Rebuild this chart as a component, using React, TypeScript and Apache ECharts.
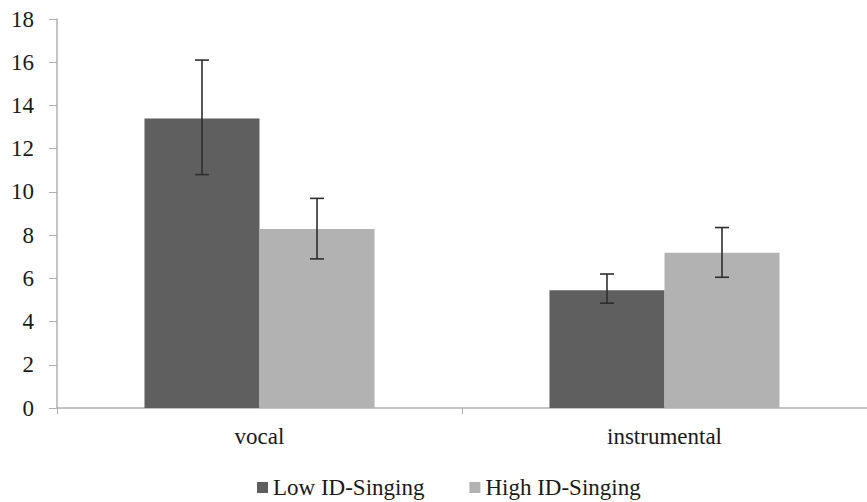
import React, { useEffect, useRef } from "react";
import * as echarts from "echarts";

const categories = ["vocal", "instrumental"];
const seriesNames = ["Low ID-Singing", "High ID-Singing"];
const lowValues = [13.4, 5.45];
const highValues = [8.28, 7.18];
const lowErrLow = [10.8, 4.85];
const lowErrHigh = [16.1, 6.2];
const highErrLow = [6.9, 6.05];
const highErrHigh = [9.7, 8.35];
const yTicks = [0, 2, 4, 6, 8, 10, 12, 14, 16, 18];

const colors = ["#5f5f5f", "#b2b2b2"];
const FONT = "Liberation Serif, serif";
const BAR_FRAC = 0.284;

function errSeries(lo: number[], hi: number[], offsetSign: number) {
  return {
    type: "custom",
    silent: true,
    z: 10,
    data: categories.map((_, i) => [i, lo[i], hi[i]]),
    renderItem: (params: any, api: any) => {
      const band = api.size([1, 0])[0];
      const xIdx = api.value(0);
      const pLo = api.coord([xIdx, api.value(1)]);
      const pHi = api.coord([xIdx, api.value(2)]);
      const x = pLo[0] + offsetSign * band * BAR_FRAC * 0.5;
      const cap = 7;
      const style = { stroke: "#2e2e2e", lineWidth: 1.6 };
      return {
        type: "group",
        children: [
          { type: "line", shape: { x1: x, y1: pHi[1], x2: x, y2: pLo[1] }, style },
          { type: "line", shape: { x1: x - cap, y1: pHi[1], x2: x + cap, y2: pHi[1] }, style },
          { type: "line", shape: { x1: x - cap, y1: pLo[1], x2: x + cap, y2: pLo[1] }, style },
        ],
      };
    },
  };
}

export default function App() {
  const ref = useRef<HTMLDivElement>(null);
  useEffect(() => {
    if (!ref.current) return;
    const chart = echarts.init(ref.current, null, { renderer: "svg" });
    chart.setOption({
      animation: false,
      backgroundColor: "#ffffff",
      textStyle: { fontFamily: FONT },
      grid: { left: 57, right: -8, top: 19, bottom: 94 },
      legend: {
        data: seriesNames,
        left: 252,
        top: 471,
        icon: "rect",
        itemWidth: 11,
        itemHeight: 11,
        itemGap: 45,
        textStyle: { fontFamily: FONT, fontSize: 23, color: "#1a1a1a" },
      },
      xAxis: {
        type: "category",
        data: categories,
        axisLine: { lineStyle: { color: "#b0b0b0", width: 1.5 } },
        axisTick: { show: true, length: 6, lineStyle: { color: "#b0b0b0" } },
        axisLabel: { fontFamily: FONT, fontSize: 23, color: "#1a1a1a", margin: 17 },
      },
      yAxis: {
        type: "value",
        min: yTicks[0],
        max: yTicks[yTicks.length - 1],
        interval: 2,
        axisLine: { show: true, lineStyle: { color: "#b0b0b0", width: 1.5 } },
        axisTick: { show: true, length: 8, lineStyle: { color: "#b0b0b0" } },
        splitLine: { show: false },
        axisLabel: { fontFamily: FONT, fontSize: 23, color: "#1a1a1a", margin: 23 },
      },
      series: [
        {
          name: seriesNames[0],
          type: "bar",
          data: lowValues,
          barWidth: (BAR_FRAC * 100).toFixed(1) + "%",
          barGap: "0%",
          itemStyle: { color: colors[0] },
        },
        {
          name: seriesNames[1],
          type: "bar",
          data: highValues,
          barWidth: (BAR_FRAC * 100).toFixed(1) + "%",
          barGap: "0%",
          itemStyle: { color: colors[1] },
        },
        errSeries(lowErrLow, lowErrHigh, -1),
        errSeries(highErrLow, highErrHigh, 1),
      ],
    });
    return () => chart.dispose();
  }, []);
  return (
    <div
      ref={ref}
      style={{ position: "fixed", left: 0, top: 0, width: 867, height: 502 }}
    />
  );
}
